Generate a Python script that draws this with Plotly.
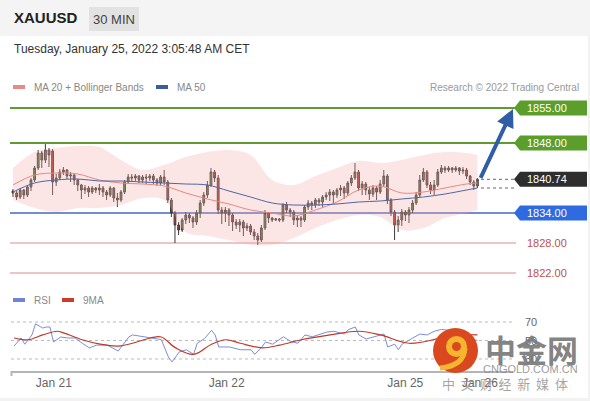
import plotly.graph_objects as go

W, H = 590, 401

# ---------------- data ----------------
opens = [1838.4, 1838.0, 1837.2, 1838.6, 1837.6, 1839.2, 1840.6, 1843.0, 1846.0, 1844.6,
         1846.6, 1846.4, 1840.2, 1841.0, 1842.2, 1842.6, 1841.4, 1841.6, 1840.6, 1839.6,
         1838.6, 1839.0, 1838.2, 1839.0, 1838.6, 1839.0, 1838.2, 1837.6, 1839.0, 1837.0,
         1836.6, 1838.2, 1840.2, 1841.2, 1841.0, 1841.4, 1840.6, 1841.2, 1841.0, 1841.4,
         1840.6, 1840.0, 1841.2, 1840.2, 1836.6, 1834.0, 1831.6, 1830.6, 1832.6, 1833.6,
         1833.0, 1832.2, 1834.0, 1836.0, 1837.6, 1839.6, 1842.2, 1841.0, 1834.6, 1834.0,
         1834.6, 1833.6, 1832.2, 1831.6, 1832.2, 1831.0, 1831.4, 1830.2, 1829.4, 1828.6,
         1831.0, 1834.0, 1833.0, 1832.6, 1832.8, 1832.6, 1835.6, 1834.6, 1834.2, 1832.6,
         1833.0, 1832.6, 1835.2, 1836.0, 1835.6, 1836.6, 1836.2, 1837.2, 1837.6, 1838.2,
         1837.6, 1838.6, 1839.0, 1838.0, 1840.0, 1841.0, 1842.2, 1839.0, 1839.8, 1838.6,
         1837.8, 1839.0, 1838.2, 1839.8, 1841.4, 1836.6, 1834.2, 1831.6, 1832.6, 1834.2,
         1833.6, 1834.6, 1836.0, 1837.6, 1840.6, 1842.2, 1839.6, 1838.6, 1839.6, 1842.2,
         1843.0, 1842.6, 1843.0, 1842.6, 1843.0, 1842.4, 1842.6, 1841.4, 1840.2, 1839.4]
closes = [1838.0, 1837.2, 1838.6, 1837.6, 1839.2, 1840.6, 1843.0, 1846.0, 1844.6, 1846.6,
          1845.6, 1840.2, 1841.0, 1842.2, 1842.6, 1841.4, 1841.6, 1840.6, 1839.6, 1838.6,
          1839.0, 1838.2, 1839.0, 1838.6, 1839.0, 1838.2, 1837.6, 1839.0, 1837.0, 1836.6,
          1838.2, 1840.2, 1841.2, 1841.0, 1841.4, 1840.6, 1841.2, 1841.0, 1841.4, 1840.6,
          1840.0, 1841.2, 1840.2, 1836.6, 1834.0, 1831.6, 1830.6, 1832.6, 1833.6, 1833.0,
          1832.2, 1834.0, 1836.0, 1837.6, 1839.6, 1842.2, 1841.0, 1834.6, 1834.0, 1834.6,
          1833.6, 1832.2, 1831.6, 1832.2, 1831.0, 1831.4, 1830.2, 1829.4, 1828.6, 1831.0,
          1834.0, 1833.0, 1832.6, 1832.8, 1832.6, 1835.6, 1834.6, 1834.2, 1832.6, 1833.0,
          1832.6, 1835.2, 1836.0, 1835.6, 1836.6, 1836.2, 1837.2, 1837.6, 1838.2, 1837.6,
          1838.6, 1839.0, 1838.0, 1840.0, 1841.0, 1842.2, 1839.0, 1839.8, 1838.6, 1837.8,
          1839.0, 1838.2, 1839.8, 1841.4, 1836.6, 1834.2, 1831.6, 1832.6, 1834.2, 1833.6,
          1834.6, 1836.0, 1837.6, 1840.6, 1842.2, 1839.6, 1838.6, 1839.6, 1842.2, 1843.0,
          1842.6, 1843.0, 1842.6, 1843.0, 1842.4, 1842.6, 1841.4, 1840.2, 1839.4, 1840.74]
highs = [1838.8, 1838.4, 1839.0, 1838.8, 1839.6, 1841.0, 1843.4, 1846.6, 1846.4, 1847.8,
         1847.0, 1846.8, 1841.8, 1842.8, 1843.2, 1842.8, 1842.2, 1841.8, 1840.8, 1839.8,
         1839.6, 1839.4, 1839.4, 1839.2, 1839.8, 1839.4, 1838.6, 1839.4, 1839.2, 1838.0,
         1838.6, 1840.6, 1841.8, 1841.8, 1841.8, 1841.6, 1841.6, 1841.8, 1841.8, 1841.8,
         1841.0, 1841.6, 1842.6, 1840.6, 1837.0, 1834.4, 1832.2, 1833.0, 1834.2, 1834.0,
         1833.4, 1834.6, 1836.6, 1838.2, 1840.4, 1843.0, 1842.6, 1841.6, 1835.2, 1835.2,
         1835.0, 1834.0, 1832.8, 1832.8, 1832.6, 1832.0, 1831.8, 1830.8, 1830.0, 1831.6,
         1834.6, 1834.2, 1833.2, 1833.0, 1833.0, 1836.0, 1836.2, 1835.0, 1834.6, 1833.6,
         1833.4, 1835.6, 1836.6, 1836.4, 1837.0, 1837.0, 1837.6, 1838.2, 1838.8, 1838.6,
         1839.0, 1839.6, 1839.4, 1840.4, 1841.6, 1844.0, 1842.6, 1840.4, 1840.2, 1839.2,
         1839.6, 1839.4, 1840.6, 1842.6, 1841.8, 1837.0, 1834.6, 1833.4, 1834.8, 1834.6,
         1835.2, 1836.6, 1838.2, 1841.6, 1843.0, 1842.6, 1840.2, 1840.6, 1842.8, 1843.6,
         1843.4, 1843.4, 1843.2, 1843.4, 1843.2, 1843.2, 1843.0, 1841.6, 1840.6, 1841.0]
lows = [1837.2, 1836.6, 1836.8, 1836.8, 1837.2, 1838.4, 1840.2, 1842.6, 1843.0, 1844.0,
        1843.2, 1837.6, 1839.4, 1840.6, 1841.6, 1840.8, 1840.2, 1839.6, 1838.4, 1836.8,
        1837.8, 1837.2, 1837.8, 1838.0, 1837.6, 1837.2, 1836.6, 1837.2, 1836.2, 1835.2,
        1836.2, 1837.8, 1839.8, 1840.2, 1840.4, 1840.0, 1840.0, 1839.8, 1840.4, 1839.8,
        1839.4, 1839.6, 1839.6, 1836.0, 1833.2, 1828.0, 1829.6, 1830.2, 1831.8, 1832.0,
        1831.0, 1831.6, 1833.0, 1835.4, 1837.0, 1839.2, 1840.2, 1833.8, 1831.8, 1832.2,
        1831.4, 1830.4, 1830.8, 1830.2, 1829.4, 1830.4, 1829.6, 1828.6, 1827.6, 1828.2,
        1830.6, 1832.0, 1832.2, 1832.4, 1832.2, 1832.2, 1834.0, 1833.2, 1831.6, 1831.2,
        1831.2, 1832.2, 1834.6, 1834.6, 1835.0, 1835.4, 1835.2, 1836.6, 1836.4, 1836.0,
        1837.0, 1837.4, 1836.8, 1837.4, 1839.4, 1840.6, 1838.4, 1837.6, 1837.6, 1836.6,
        1837.2, 1836.6, 1837.8, 1839.2, 1835.8, 1833.4, 1828.6, 1830.2, 1831.4, 1832.4,
        1832.0, 1834.0, 1835.6, 1837.2, 1840.2, 1839.0, 1837.8, 1837.6, 1839.2, 1841.8,
        1842.0, 1842.2, 1842.0, 1842.2, 1841.6, 1841.8, 1840.8, 1839.6, 1838.6, 1839.0]
candle_idx = list(range(len(closes)))

band_idx = [0, 6, 12, 18, 24, 30, 36, 42, 48, 54, 60, 66, 72, 78, 84, 90, 96, 102, 108, 114, 120, 126, 129]
bb_upper = [1843.0, 1846.2, 1847.0, 1847.4, 1847.2, 1844.6, 1842.6, 1843.6, 1845.2, 1846.2, 1846.6, 1845.6,
            1840.6, 1839.6, 1841.4, 1843.0, 1844.4, 1844.0, 1844.6, 1845.6, 1846.2, 1846.0, 1845.6]
bb_lower = [1836.6, 1835.0, 1834.2, 1835.0, 1835.0, 1835.6, 1837.0, 1836.6, 1830.2, 1829.4, 1828.6, 1827.6,
            1827.6, 1829.0, 1831.0, 1832.6, 1833.6, 1833.2, 1830.6, 1831.0, 1833.0, 1834.0, 1834.6]
ma20 = [1839.6, 1841.6, 1842.0, 1841.8, 1840.6, 1840.0, 1839.8, 1839.4, 1838.0, 1836.8, 1835.8, 1834.6,
        1834.0, 1833.4, 1834.6, 1836.2, 1838.6, 1839.4, 1838.0, 1838.2, 1839.0, 1839.8, 1840.0]
ma50 = [1838.2, 1840.0, 1840.6, 1840.8, 1840.4, 1840.4, 1840.2, 1840.0, 1839.8, 1839.6, 1838.4, 1837.2,
        1836.0, 1835.6, 1835.6, 1835.8, 1836.2, 1836.4, 1836.8, 1837.2, 1837.8, 1838.6, 1839.0]

rsi_idx = [0, 2, 3, 5, 6, 8, 9, 10, 11, 13, 15, 17, 19, 21, 23, 26, 29, 32, 33, 36,
           39, 41, 43, 44, 46, 48, 50, 51, 53, 55, 56, 57, 60, 63, 66, 67, 69, 70, 72, 75,
           77, 79, 81, 83, 87, 89, 92, 93, 95, 96, 98, 100, 102, 103, 104, 106, 107, 108, 111, 113,
           115, 117, 119, 121, 123, 125, 127, 129]
rsi_vals = [44, 52.7, 46, 56, 68, 63.5, 64.6, 64.6, 48.4, 53.8, 52.7, 52.7, 47, 42, 45, 45, 38.6, 54, 56, 54,
            52.7, 51, 32, 26.8, 37.6, 40, 35, 47, 52, 61, 56, 43, 43, 40, 40, 35, 43, 48.4, 46, 54,
            49, 47, 56, 54, 59, 60, 57, 61.6, 64.6, 56, 51.6, 54, 56, 57, 43, 46, 40, 46, 52.7, 57,
            56, 60, 62, 61, 60, 59, 52, 50]
rsi_ma_idx = [0, 4, 8, 12, 14, 19, 24, 29, 33, 38, 41, 45, 50, 55, 59, 63, 69, 74, 80, 88, 96, 102, 110, 118, 122, 129]
rsi_ma_vals = [52.7, 50.8, 56, 60, 58, 50.8, 46, 44, 47, 52.7, 53.8, 42, 35, 46, 50.8, 47, 42, 45, 50.8, 56,
               60, 56, 47, 52, 56, 56]
rsi_levels = [70, 50, 30]

resistance_levels = [1855.00, 1848.00]
pivot_level = 1834.00
support_levels = [1828.00, 1822.00]
last_price = 1840.74
target_price = 1855.00

tick_pos = [11.1, 59.2, 108.9, 129.7]
tick_text = ["Jan 21", "Jan 22", "Jan 25", "Jan 26"]

# ---------------- helpers (layout positions in pixels) ----------------
def px(x):
    return x / W

def py(y):
    return 1 - y / H

FONT = "Liberation Sans, Arial, sans-serif"
XL = px(10)
XR = px(516)

fig = go.Figure()

# Bollinger band
fig.add_trace(go.Scatter(x=band_idx, y=bb_upper, mode="lines", line=dict(width=0, shape="spline"),
                         hoverinfo="skip", showlegend=False))
fig.add_trace(go.Scatter(x=band_idx, y=bb_lower, mode="lines", line=dict(width=0, shape="spline"),
                         fill="tonexty", fillcolor="rgba(245,170,170,0.30)", hoverinfo="skip", showlegend=False))
fig.add_trace(go.Scatter(x=band_idx, y=ma20, mode="lines", line=dict(width=1, color="#e58a80", shape="spline"),
                         showlegend=False))
fig.add_trace(go.Scatter(x=band_idx, y=ma50, mode="lines", line=dict(width=1, color="#4d66a8", shape="spline"),
                         showlegend=False))

fig.add_trace(go.Candlestick(
    x=candle_idx, open=opens, high=highs, low=lows, close=closes,
    increasing=dict(fillcolor="#4f8a3a", line=dict(color="#3a3a3a", width=1)),
    decreasing=dict(fillcolor="#c0392b", line=dict(color="#3a3a3a", width=1)),
    whiskerwidth=0, showlegend=False, xaxis="x", yaxis="y"))

# RSI pane
fig.add_trace(go.Scatter(x=rsi_idx, y=rsi_vals, mode="lines", line=dict(width=1, color="#7b8ddb"),
                         xaxis="x2", yaxis="y2", showlegend=False))
fig.add_trace(go.Scatter(x=rsi_ma_idx, y=rsi_ma_vals, mode="lines",
                         line=dict(width=1.2, color="#c0392b", shape="spline"),
                         xaxis="x2", yaxis="y2", showlegend=False))

XRANGE = [-0.83, 138.9]
fig.update_layout(
    width=W, height=H, autosize=False,
    margin=dict(l=0, r=0, t=0, b=0),
    paper_bgcolor="white", plot_bgcolor="rgba(0,0,0,0)",
    font=dict(family=FONT, color="#555"),
    xaxis=dict(domain=[px(10), px(513)], range=XRANGE, showgrid=False, zeroline=False,
               showticklabels=False, rangeslider=dict(visible=False), anchor="y", fixedrange=True),
    yaxis=dict(domain=[py(285), py(95)], range=[1819.6, 1857.6], showgrid=False, zeroline=False,
               showticklabels=False, anchor="x"),
    xaxis2=dict(domain=[px(11), px(513)], range=XRANGE, showgrid=False, zeroline=False,
                anchor="y2", showline=True, linecolor="#b5b5b5", linewidth=2,
                tickmode="array", tickvals=tick_pos, ticktext=tick_text, ticks="",
                tickfont=dict(size=12, color="#666", family=FONT)),
    yaxis2=dict(domain=[py(371), py(310)], range=[17, 83], showgrid=False, zeroline=False,
                showticklabels=False, anchor="x2"),
)

shapes = []
# header strip and borders
shapes.append(dict(type="rect", xref="paper", yref="paper", x0=0, x1=1, y0=py(36), y1=1,
                   fillcolor="#f4f4f4", line=dict(width=0), layer="below"))
shapes.append(dict(type="rect", xref="paper", yref="paper", x0=px(89), x1=px(139), y0=py(31), y1=py(7),
                   fillcolor="#e2e2e2", line=dict(width=0), layer="below"))
shapes.append(dict(type="rect", xref="paper", yref="paper", x0=px(588), x1=1, y0=0, y1=py(36),
                   fillcolor="#f2f2f2", line=dict(width=0), layer="below"))
shapes.append(dict(type="rect", xref="paper", yref="paper", x0=0, x1=1, y0=0, y1=py(398),
                   fillcolor="#f2f2f2", line=dict(width=0), layer="below"))

# level lines
for lv in resistance_levels:
    shapes.append(dict(type="line", xref="paper", yref="y", x0=XL, x1=XR, y0=lv, y1=lv,
                       line=dict(color="#5f9b32", width=2), layer="below"))
shapes.append(dict(type="line", xref="paper", yref="y", x0=XL, x1=XR, y0=pivot_level, y1=pivot_level,
                   line=dict(color="#6f8fd2", width=2), layer="below"))
for lv in support_levels:
    shapes.append(dict(type="line", xref="paper", yref="y", x0=XL, x1=XR, y0=lv, y1=lv,
                       line=dict(color="#eab0b0", width=1.5), layer="below"))

# dotted markers for last price and MA50 end
for lv in [last_price, ma50[-1]]:
    shapes.append(dict(type="line", xref="paper", yref="y", x0=px(481), x1=px(514), y0=lv, y1=lv,
                       line=dict(color="#666", width=1, dash="dot")))

# RSI dotted reference lines
for lv in rsi_levels:
    shapes.append(dict(type="line", xref="paper", yref="y2", x0=px(11), x1=px(513), y0=lv, y1=lv,
                       line=dict(color="#bbbbbb", width=1, dash="dot"), layer="below"))

# left tick at x-axis start
shapes.append(dict(type="line", xref="paper", yref="paper", x0=px(11.5), x1=px(11.5), y0=py(371), y1=py(376),
                   line=dict(color="#b5b5b5", width=2)))

# label tags on the right
def tag(level, color):
    half = 1.5
    path = (f"M {px(514)},{level} L {px(520)},{level + half} L {px(587)},{level + half} "
            f"L {px(587)},{level - half} L {px(520)},{level - half} Z")
    return dict(type="path", xref="paper", yref="y", path=path, fillcolor=color, line=dict(width=0))

tag_specs = [(resistance_levels[0], "#5b9e2b"), (resistance_levels[1], "#5b9e2b"),
             (last_price, "#2e2e2e"), (pivot_level, "#2f6be0")]
for lv, col in tag_specs:
    shapes.append(tag(lv, col))

# watermark logo
shapes.append(dict(type="circle", xref="paper", yref="paper", x0=px(433), x1=px(478), y0=py(373), y1=py(328),
                   fillcolor="#d9481f", line=dict(width=0)))
shapes.append(dict(type="circle", xref="paper", yref="paper", x0=px(446), x1=px(467), y0=py(357), y1=py(336),
                   fillcolor="#f6b52f", line=dict(width=0)))
shapes.append(dict(type="circle", xref="paper", yref="paper", x0=px(452), x1=px(461), y0=py(351), y1=py(342),
                   fillcolor="#d9481f", line=dict(width=0)))
shapes.append(dict(type="path", xref="paper", yref="paper",
                   path=f"M {px(465)},{py(348)} Q {px(464)},{py(366)} {px(440)},{py(368)}",
                   line=dict(color="#f6b52f", width=5)))

fig.update_layout(shapes=shapes)

ann = []
ann.append(dict(text="<b>XAUUSD</b>", xref="paper", yref="paper", x=px(12), y=py(18), xanchor="left",
                yanchor="middle", showarrow=False, font=dict(size=15, color="#222", family=FONT)))
ann.append(dict(text="30 MIN", xref="paper", yref="paper", x=px(114), y=py(19), xanchor="center",
                yanchor="middle", showarrow=False, font=dict(size=13, color="#444", family=FONT)))
ann.append(dict(text="Tuesday, January 25, 2022 3:05:48 AM CET", xref="paper", yref="paper", x=px(12),
                y=py(49), xanchor="left", yanchor="middle", showarrow=False,
                font=dict(size=12, color="#333", family=FONT)))

# legends
def swatch(x0, y, color):
    return dict(type="rect", xref="paper", yref="paper", x0=px(x0), x1=px(x0 + 12), y0=py(y + 2), y1=py(y - 2),
                fillcolor=color, line=dict(width=0))

fig.add_shape(swatch(13, 87, "#e58a86"))
fig.add_shape(swatch(156, 87, "#3d5c9e"))
fig.add_shape(swatch(13, 300, "#7084d6"))
fig.add_shape(swatch(62, 300, "#cf3b2a"))
for txt, x, y in [("MA 20 + Bollinger Bands", 32, 87), ("MA 50", 175, 87), ("RSI", 32, 300), ("9MA", 81, 300)]:
    ann.append(dict(text=txt, xref="paper", yref="paper", x=px(x), y=py(y), xanchor="left", yanchor="middle",
                    showarrow=False, font=dict(size=10, color="#888", family=FONT)))
ann.append(dict(text="Research © 2022 Trading Central", xref="paper", yref="paper", x=px(581), y=py(87),
                xanchor="right", yanchor="middle", showarrow=False, font=dict(size=10, color="#999", family=FONT)))

# level tag texts
for lv, col in tag_specs:
    ann.append(dict(text=f"{lv:.2f}", xref="paper", yref="y", x=px(525), y=lv, xanchor="left", yanchor="middle",
                    showarrow=False, font=dict(size=11, color="white", family=FONT)))
for lv in support_levels:
    ann.append(dict(text=f"{lv:.2f}", xref="paper", yref="y", x=px(525), y=lv, xanchor="left", yanchor="middle",
                    showarrow=False, font=dict(size=11, color="#c0504d", family=FONT)))

# RSI level labels
for lv in rsi_levels:
    ann.append(dict(text=str(lv), xref="paper", yref="y2", x=px(531), y=lv, xanchor="center", yanchor="middle",
                    showarrow=False, font=dict(size=11, color="#666", family=FONT)))

# forecast arrow
ann.append(dict(x=138.9, y=target_price - 0.2, ax=129.7, ay=last_price, xref="x", yref="y", axref="x", ayref="y",
                text="", showarrow=True, arrowhead=2, arrowsize=0.9, arrowwidth=4, arrowcolor="#2f5ea6",
                standoff=0, startstandoff=0))

# watermark text
CJK = "Noto Sans CJK SC"
ann.append(dict(text="<b>中金网</b>", xref="paper", yref="paper", x=px(531), y=py(348), xanchor="center",
                yanchor="middle", showarrow=False, font=dict(size=31, color="rgba(120,120,120,0.92)", family=CJK)))
ann.append(dict(text="CNGOLD.COM.CN", xref="paper", yref="paper", x=px(530), y=py(369), xanchor="center",
                yanchor="middle", showarrow=False, font=dict(size=11, color="rgba(130,130,130,0.8)", family=FONT)))
ann.append(dict(text="中  文  财  经  新  媒  体", xref="paper", yref="paper", x=px(505), y=py(383),
                xanchor="center", yanchor="middle", showarrow=False,
                font=dict(size=13, color="rgba(140,140,140,0.8)", family=CJK)))

fig.update_layout(annotations=ann)

fig.write_html("out.html", config={"displayModeBar": False},
               post_script="document.body.style.margin='0px';document.body.style.padding='0px';")
